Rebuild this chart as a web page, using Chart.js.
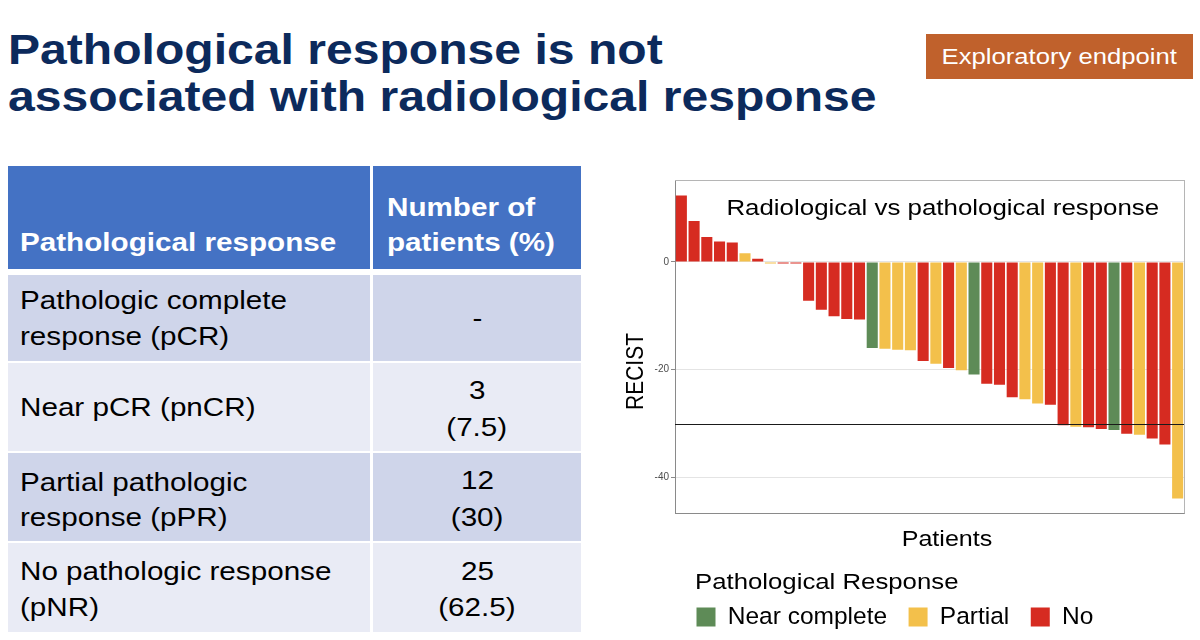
<!DOCTYPE html>
<html><head><meta charset="utf-8">
<script src="https://cdn.jsdelivr.net/npm/chart.js@4.4.1/dist/chart.umd.min.js"></script>
<style>
html,body{margin:0;padding:0;background:#fff;width:1200px;height:640px;overflow:hidden;font-family:"Liberation Sans",Arial,Helvetica,sans-serif;}
.sx{display:inline-block;transform:scaleX(1.14);transform-origin:left center;white-space:nowrap;}
.sxc{display:inline-block;transform:scaleX(1.14);transform-origin:center center;white-space:nowrap;}
.title{position:absolute;left:8px;font-size:42px;font-weight:bold;color:#0c2a5c;height:47px;line-height:47px;}
.badge{position:absolute;left:926px;top:34px;width:267px;height:45px;background:#c0612c;color:#fff;font-size:22.5px;line-height:45px;text-align:center;}
.cell{position:absolute;}
.hd{background:#4472c4;}
.ra{background:#cfd5ea;}
.rb{background:#e9ebf5;}
.t{position:absolute;height:36px;line-height:36px;font-size:26px;color:#000;}
.tl{left:20px;}
.tr{left:373px;width:208px;text-align:center;}
.th{font-weight:bold;color:#fff;}
#inner{position:absolute;left:743px;width:400px;top:193px;height:28px;line-height:28px;text-align:center;font-size:22.7px;color:#000;}
#wrap{position:absolute;left:600px;top:170px;width:600px;height:470px;}
</style>
</head><body>
<div class="title" style="top:26px"><span class="sx" style="transform:scaleX(1.145)">Pathological response is not</span></div>
<div class="title" style="top:73px"><span class="sx" style="transform:scaleX(1.145)">associated with radiological response</span></div>
<div class="badge"><span class="sxc">Exploratory endpoint</span></div>

<div class="cell hd" style="left:8px;top:166px;width:362px;height:103px"></div>
<div class="cell hd" style="left:373px;top:166px;width:208px;height:103px"></div>
<div class="cell ra" style="left:8px;top:275px;width:362px;height:86px"></div>
<div class="cell ra" style="left:373px;top:275px;width:208px;height:86px"></div>
<div class="cell rb" style="left:8px;top:363px;width:362px;height:88px"></div>
<div class="cell rb" style="left:373px;top:363px;width:208px;height:88px"></div>
<div class="cell ra" style="left:8px;top:453px;width:362px;height:88px"></div>
<div class="cell ra" style="left:373px;top:453px;width:208px;height:88px"></div>
<div class="cell rb" style="left:8px;top:543px;width:362px;height:89px"></div>
<div class="cell rb" style="left:373px;top:543px;width:208px;height:89px"></div>

<div class="t tl th" style="top:224px"><span class="sx">Pathological response</span></div>
<div class="t th" style="left:387px;top:189px"><span class="sx">Number of</span></div>
<div class="t th" style="left:387px;top:224px"><span class="sx">patients (%)</span></div>

<div class="t tl" style="top:282px"><span class="sx">Pathologic complete</span></div>
<div class="t tl" style="top:318px"><span class="sx">response (pCR)</span></div>
<div class="t tr" style="top:300px"><span class="sxc">-</span></div>

<div class="t tl" style="top:389px"><span class="sx">Near pCR (pnCR)</span></div>
<div class="t tr" style="top:372px"><span class="sxc">3</span></div>
<div class="t tr" style="top:409px"><span class="sxc">(7.5)</span></div>

<div class="t tl" style="top:464px"><span class="sx">Partial pathologic</span></div>
<div class="t tl" style="top:499px"><span class="sx">response (pPR)</span></div>
<div class="t tr" style="top:462px"><span class="sxc">12</span></div>
<div class="t tr" style="top:499px"><span class="sxc">(30)</span></div>

<div class="t tl" style="top:553px"><span class="sx">No pathologic response</span></div>
<div class="t tl" style="top:589px"><span class="sx">(pNR)</span></div>
<div class="t tr" style="top:553px"><span class="sxc">25</span></div>
<div class="t tr" style="top:589px"><span class="sxc">(62.5)</span></div>

<div id="wrap"><canvas id="c" width="600" height="470"></canvas></div>
<div id="inner"><span class="sxc">Radiological vs pathological response</span></div>

<script>
// ---- data ----
const patientIds = ["P1","P2","P3","P4","P5","P6","P7","P8","P9","P10","P11","P12","P13","P14","P15","P16","P17","P18","P19","P20","P21","P22","P23","P24","P25","P26","P27","P28","P29","P30","P31","P32","P33","P34","P35","P36","P37","P38","P39","P40"];
const recistChange = [12.3, 7.6, 4.6, 3.8, 3.6, 1.6, 0.6, -0.3, -0.3, -0.3,
  -7.2, -8.9, -10.1, -10.6, -10.7, -16.0, -16.1, -16.3, -16.4, -18.4,
  -18.9, -19.7, -20.1, -20.9, -22.6, -22.8, -25.1, -25.5, -26.3, -26.5,
  -30.3, -30.6, -30.7, -31.0, -31.2, -31.9, -32.1, -32.8, -33.9, -43.9];
const pathResponse = ["No","No","No","No","No","Partial","No","Partial","No","No",
  "No","No","No","No","No","Near complete","Partial","Partial","Partial","No",
  "Partial","No","Partial","Near complete","No","No","No","Partial","Partial","No",
  "No","Partial","No","No","Near complete","No","Partial","No","No","Partial"];
const responseCategories = ["Near complete","Partial","No"];
const responseColors = ["#5e8b57","#f3c04b","#d62b21"];
const legendTitle = "Pathological Response";
const xAxisTitle = "Patients";
const yAxisTitle = "RECIST";
const yTickValues = [0, -20, -40];
const referenceLine = -30;
const yMin = -46.7, yMax = 15.2;

const FONT = '"Liberation Sans", Arial, sans-serif';
const SX = 1.14;
const colorFor = r => responseColors[responseCategories.indexOf(r)];

function stretchedText(ctx, text, x, y, size, align, rotate) {
  ctx.save();
  ctx.translate(x, y);
  ctx.scale(SX, 1);
  if (rotate) ctx.rotate(-Math.PI / 2);
  ctx.font = size + 'px ' + FONT;
  ctx.fillStyle = '#000';
  ctx.textAlign = align;
  ctx.textBaseline = 'middle';
  ctx.fillText(text, 0, 0);
  ctx.restore();
}

const framePlugin = {
  id: 'frame',
  afterDatasetsDraw(chart) {
    const {ctx, chartArea: a, scales: {y}} = chart;
    ctx.save();
    ctx.strokeStyle = '#b5b5b5'; ctx.lineWidth = 1;
    ctx.beginPath();
    ctx.moveTo(a.left, a.top + 0.5); ctx.lineTo(a.right + 0.5, a.top + 0.5);
    ctx.moveTo(a.right + 0.5, a.top); ctx.lineTo(a.right + 0.5, a.bottom);
    ctx.stroke();
    const py = Math.round(y.getPixelForValue(referenceLine)) + 0.5;
    ctx.strokeStyle = '#1a1a1a';
    ctx.beginPath(); ctx.moveTo(a.left, py); ctx.lineTo(a.right, py); ctx.stroke();
    ctx.restore();
  },
  afterDraw(chart) {
    const {ctx, chartArea: a, legend: lg, scales: {x, y}} = chart;
    // axis titles (panel-centred as in the original ggplot figure)
    stretchedText(ctx, xAxisTitle, a.left + 272, x.bottom - 30.5, 22, 'center', false);
    stretchedText(ctx, yAxisTitle, y.left + 16, a.top + 191.5, 21, 'center', true);
    // legend title, indented to line up with the legend keys
    if (lg) stretchedText(ctx, legendTitle, lg.left + 20, lg.top + 12, 22.6, 'left', false);
  }
};

new Chart(document.getElementById('c'), {
  type: 'bar',
  data: {
    labels: patientIds,
    datasets: [{
      label: 'RECIST',
      data: recistChange,
      backgroundColor: pathResponse.map(colorFor),
      borderWidth: 0,
      barPercentage: 0.87,
      categoryPercentage: 1.0
    }]
  },
  options: {
    responsive: false,
    devicePixelRatio: 1,
    animation: false,
    layout: { padding: { left: 20, right: 16, top: 10, bottom: 0.75 } },
    scales: {
      x: {
        grid: { display: false },
        ticks: { display: false },
        border: { display: true, color: '#8a8a8a' },
        title: { display: false, text: xAxisTitle },
        afterFit(s) { s.height = 57; }
      },
      y: {
        min: yMin, max: yMax,
        afterBuildTicks(s) { s.ticks = yTickValues.map(v => ({ value: v })); },
        afterFit(s) { s.width = 55; },
        ticks: { color: '#4d4d4d', font: { size: 10, family: FONT }, padding: 2 },
        grid: { color: '#e4e4e4', tickColor: '#8a8a8a', tickLength: 4 },
        border: { display: true, color: '#8a8a8a' },
        title: { display: false, text: yAxisTitle }
      }
    },
    plugins: {
      tooltip: { enabled: false },
      legend: {
        position: 'bottom', align: 'start', fullSize: false,
        title: { display: true, text: legendTitle, position: 'start', color: 'rgba(0,0,0,0)', font: { size: 23, family: FONT }, padding: { top: 0, bottom: -14.85 } },
        labels: {
          boxWidth: 19, boxHeight: 19, padding: 21.5, color: '#000', font: { size: 24.5, family: FONT },
          generateLabels: () => responseCategories.map((c, i) => ({ text: c, fillStyle: responseColors[i], strokeStyle: responseColors[i], fontColor: '#000', lineWidth: 0, hidden: false, datasetIndex: 0 }))
        }
      }
    }
  },
  plugins: [framePlugin]
});
</script>
</body></html>
